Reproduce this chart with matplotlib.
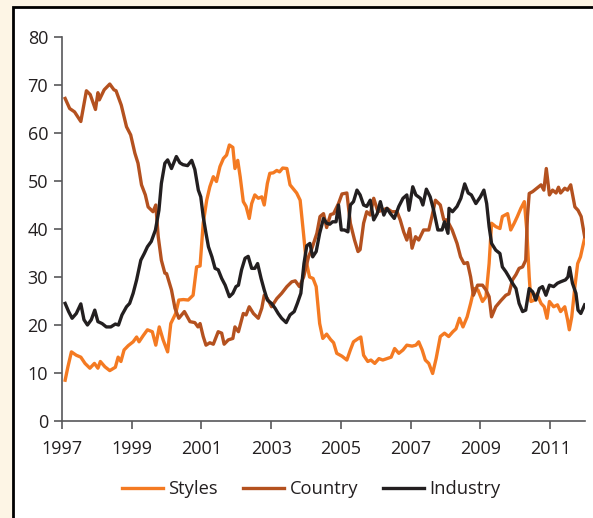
import matplotlib.pyplot as plt
from matplotlib.patches import Rectangle

# (decimal year, %)
styles_t = [1997.09, 1997.17, 1997.27, 1997.41, 1997.54, 1997.66, 1997.80, 1997.93, 1998.03, 1998.10,
            1998.23, 1998.37, 1998.53, 1998.61, 1998.69, 1998.78, 1998.90, 1999.04, 1999.14, 1999.21,
            1999.33, 1999.45, 1999.59, 1999.69, 1999.79, 1999.90, 2000.03, 2000.12, 2000.26, 2000.35,
            2000.48, 2000.62, 2000.76, 2000.86, 2000.96, 2001.05, 2001.15, 2001.24, 2001.34, 2001.43,
            2001.53, 2001.63, 2001.72, 2001.80, 2001.90, 2001.96, 2002.04, 2002.11, 2002.20, 2002.28,
            2002.37, 2002.44, 2002.53, 2002.63, 2002.73, 2002.80, 2002.89, 2002.96, 2003.06, 2003.16,
            2003.24, 2003.33, 2003.45, 2003.54, 2003.64, 2003.73, 2003.83, 2003.93, 2004.00, 2004.10,
            2004.20, 2004.29, 2004.39, 2004.48, 2004.59, 2004.70, 2004.79, 2004.88, 2005.03, 2005.17,
            2005.27, 2005.36, 2005.50, 2005.57, 2005.65, 2005.77, 2005.86, 2005.97, 2006.09, 2006.20,
            2006.32, 2006.44, 2006.54, 2006.66, 2006.78, 2006.89, 2007.04, 2007.15, 2007.23, 2007.33,
            2007.42, 2007.52, 2007.63, 2007.73, 2007.85, 2007.97, 2008.09, 2008.21, 2008.30, 2008.40,
            2008.50, 2008.62, 2008.72, 2008.82, 2008.93, 2009.06, 2009.16, 2009.25, 2009.32, 2009.44,
            2009.56, 2009.63, 2009.78, 2009.87, 2009.97, 2010.06, 2010.16, 2010.26, 2010.33, 2010.40,
            2010.45, 2010.55, 2010.62, 2010.74, 2010.83, 2010.91, 2010.98, 2011.10, 2011.21, 2011.30,
            2011.42, 2011.50, 2011.55, 2011.62, 2011.71, 2011.79, 2011.87, 2011.99]
styles = [8.5, 11.3, 14.4, 13.7, 13.3, 12.0, 11.0, 12.0, 11.0, 12.4,
          11.3, 10.5, 11.2, 13.3, 12.4, 14.8, 15.7, 16.5, 17.5, 16.5,
          17.8, 19.0, 18.6, 15.8, 19.6, 16.9, 14.4, 20.3, 22.4, 25.2,
          25.3, 25.2, 26.2, 32.1, 32.3, 41.2, 46.0, 48.8, 50.9, 49.9,
          53.0, 54.7, 55.4, 57.5, 57.0, 52.6, 54.3, 50.9, 45.7, 44.7,
          42.2, 45.3, 47.1, 46.4, 46.7, 45.0, 49.5, 51.6, 51.7, 52.2,
          51.9, 52.7, 52.6, 49.2, 48.3, 47.5, 46.0, 38.8, 33.5, 30.0,
          29.7, 28.0, 20.3, 17.2, 18.1, 17.0, 16.3, 14.1, 13.5, 12.7,
          14.8, 16.5, 17.2, 17.5, 13.7, 12.4, 12.7, 12.0, 13.0, 12.7,
          13.0, 13.3, 15.1, 14.1, 14.8, 15.8, 15.6, 15.8, 16.5, 14.8,
          12.7, 12.0, 9.9, 13.0, 17.6, 18.3, 17.6, 18.6, 19.2, 21.4,
          19.6, 21.7, 24.5, 27.6, 27.3, 24.9, 25.9, 32.8, 41.2, 40.5,
          40.1, 42.6, 43.2, 39.8, 41.2, 42.6, 44.3, 45.7, 39.8, 30.0,
          24.9, 25.2, 26.5, 24.5, 23.8, 21.4, 24.9, 23.8, 24.2, 22.8,
          23.8, 21.1, 19.0, 21.7, 28.0, 32.8, 34.2, 38.1]

country_t = [1997.09, 1997.22, 1997.36, 1997.54, 1997.70, 1997.81, 1997.96, 1998.03, 1998.07, 1998.21,
             1998.37, 1998.49, 1998.55, 1998.70, 1998.85, 1998.97, 1999.09, 1999.18, 1999.28, 1999.39,
             1999.47, 1999.61, 1999.69, 1999.76, 1999.85, 1999.95, 2000.00, 2000.14, 2000.24, 2000.35,
             2000.51, 2000.67, 2000.81, 2000.90, 2000.96, 2001.05, 2001.13, 2001.24, 2001.34, 2001.48,
             2001.58, 2001.65, 2001.77, 2001.90, 2001.96, 2002.06, 2002.20, 2002.28, 2002.37, 2002.49,
             2002.63, 2002.73, 2002.80, 2002.89, 2003.01, 2003.16, 2003.30, 2003.45, 2003.59, 2003.69,
             2003.81, 2003.93, 2004.07, 2004.16, 2004.31, 2004.40, 2004.50, 2004.59, 2004.70, 2004.79,
             2004.93, 2005.03, 2005.17, 2005.27, 2005.39, 2005.49, 2005.55, 2005.65, 2005.74, 2005.84,
             2005.94, 2006.06, 2006.18, 2006.32, 2006.46, 2006.61, 2006.70, 2006.80, 2006.89, 2006.97,
             2007.04, 2007.14, 2007.23, 2007.37, 2007.52, 2007.61, 2007.71, 2007.85, 2007.95, 2008.04,
             2008.19, 2008.33, 2008.43, 2008.53, 2008.63, 2008.72, 2008.80, 2008.92, 2009.06, 2009.16,
             2009.25, 2009.32, 2009.44, 2009.59, 2009.73, 2009.82, 2009.92, 2010.02, 2010.11, 2010.21,
             2010.30, 2010.35, 2010.40, 2010.50, 2010.62, 2010.74, 2010.82, 2010.89, 2010.98, 2011.07,
             2011.17, 2011.24, 2011.30, 2011.42, 2011.50, 2011.59, 2011.71, 2011.80, 2011.89, 2011.99]
country = [67.2, 65.1, 64.4, 62.4, 68.8, 68.0, 64.9, 68.4, 66.9, 69.0,
           70.2, 69.0, 68.8, 65.8, 61.3, 59.6, 55.8, 53.7, 49.2, 47.1,
           44.6, 43.6, 45.0, 38.4, 33.5, 30.8, 30.7, 27.3, 23.5, 21.4,
           22.8, 20.7, 20.5, 19.6, 20.3, 17.6, 15.8, 16.3, 16.0, 18.6,
           18.3, 16.0, 16.9, 17.2, 19.6, 18.6, 22.4, 22.1, 23.8, 22.4,
           21.4, 23.5, 26.2, 25.5, 23.8, 25.5, 26.6, 28.0, 29.0, 29.2,
           28.0, 30.0, 34.2, 35.8, 39.1, 42.6, 43.2, 40.3, 43.0, 43.2,
           45.3, 47.3, 47.5, 41.2, 37.7, 35.3, 35.7, 41.2, 43.6, 42.9,
           46.4, 43.6, 43.9, 44.3, 43.6, 43.6, 41.9, 39.4, 37.7, 40.1,
           36.0, 38.4, 37.7, 39.8, 39.8, 42.6, 46.0, 45.0, 41.9, 41.9,
           39.8, 37.0, 34.2, 32.8, 33.0, 30.0, 26.2, 28.3, 28.3, 27.3,
           25.9, 21.7, 23.8, 25.1, 26.2, 26.5, 29.4, 30.5, 31.8, 32.1,
           33.5, 42.6, 47.4, 47.8, 48.5, 49.2, 48.1, 52.6, 47.1, 48.1,
           47.5, 48.7, 47.5, 48.5, 48.1, 49.2, 44.6, 43.9, 42.6, 38.4]

industry_t = [1997.09, 1997.19, 1997.29, 1997.41, 1997.54, 1997.63, 1997.73, 1997.84, 1997.94, 1998.03,
              1998.15, 1998.27, 1998.40, 1998.53, 1998.62, 1998.72, 1998.85, 1998.94, 1999.04, 1999.14,
              1999.26, 1999.36, 1999.45, 1999.56, 1999.68, 1999.78, 1999.85, 1999.95, 2000.03, 2000.14,
              2000.28, 2000.38, 2000.47, 2000.60, 2000.72, 2000.81, 2000.91, 2000.98, 2001.05, 2001.13,
              2001.20, 2001.30, 2001.39, 2001.48, 2001.58, 2001.68, 2001.80, 2001.90, 2001.99, 2002.06,
              2002.15, 2002.25, 2002.34, 2002.44, 2002.53, 2002.61, 2002.71, 2002.80, 2002.89, 2003.01,
              2003.11, 2003.20, 2003.30, 2003.43, 2003.54, 2003.66, 2003.75, 2003.85, 2003.94, 2004.02,
              2004.11, 2004.19, 2004.29, 2004.39, 2004.50, 2004.59, 2004.68, 2004.76, 2004.86, 2004.93,
              2005.01, 2005.10, 2005.20, 2005.27, 2005.36, 2005.46, 2005.55, 2005.65, 2005.74, 2005.84,
              2005.94, 2006.04, 2006.13, 2006.23, 2006.32, 2006.42, 2006.53, 2006.66, 2006.78, 2006.89,
              2006.95, 2007.06, 2007.15, 2007.28, 2007.35, 2007.45, 2007.56, 2007.66, 2007.78, 2007.90,
              2007.97, 2008.07, 2008.10, 2008.20, 2008.33, 2008.44, 2008.55, 2008.65, 2008.74, 2008.87,
              2009.00, 2009.10, 2009.18, 2009.25, 2009.32, 2009.44, 2009.56, 2009.63, 2009.73, 2009.82,
              2009.92, 2010.02, 2010.11, 2010.21, 2010.30, 2010.40, 2010.50, 2010.59, 2010.69, 2010.78,
              2010.88, 2010.98, 2011.10, 2011.21, 2011.30, 2011.44, 2011.51, 2011.56, 2011.64, 2011.74,
              2011.80, 2011.88, 2011.99]
industry = [24.5, 22.8, 21.4, 22.4, 24.4, 21.1, 20.0, 21.1, 23.1, 20.7,
            20.3, 19.6, 19.6, 20.2, 20.0, 22.1, 23.8, 24.5, 26.6, 29.4,
            33.5, 34.9, 36.3, 37.4, 39.8, 43.9, 49.5, 53.7, 54.4, 52.6,
            55.1, 53.8, 53.4, 53.2, 54.3, 52.4, 48.1, 46.7, 42.6, 39.1,
            36.3, 34.2, 31.8, 31.5, 29.7, 28.3, 25.9, 26.6, 28.0, 28.3,
            31.5, 33.9, 34.3, 31.8, 31.8, 32.8, 29.7, 27.3, 25.2, 24.5,
            23.5, 22.4, 21.4, 20.5, 22.1, 22.8, 24.5, 26.6, 32.8, 36.5,
            37.0, 34.2, 35.3, 39.1, 42.2, 41.2, 41.0, 41.5, 41.5, 45.0,
            39.8, 39.8, 39.4, 45.0, 45.7, 48.1, 47.1, 45.0, 44.7, 46.0,
            41.9, 43.2, 45.7, 42.9, 44.3, 43.2, 42.2, 44.7, 46.4, 47.1,
            43.9, 48.8, 47.1, 46.4, 45.0, 48.3, 46.7, 43.9, 39.8, 39.8,
            41.5, 39.1, 44.3, 43.6, 44.7, 46.4, 49.4, 47.5, 47.1, 45.3,
            46.7, 48.1, 45.3, 40.5, 37.0, 35.6, 34.9, 32.1, 31.1, 30.0,
            28.7, 27.6, 24.5, 22.8, 23.1, 27.6, 26.9, 25.2, 27.6, 28.0,
            26.2, 28.3, 28.0, 28.7, 29.0, 29.4, 30.0, 32.0, 28.7, 26.6,
            23.1, 22.4, 24.2]

years = [1997, 1999, 2001, 2003, 2005, 2007, 2009, 2011]
yticks = [0, 10, 20, 30, 40, 50, 60, 70, 80]

txt = '#231f20'
plt.rcParams['font.family'] = ['Open Sans', 'DejaVu Sans']

fig = plt.figure(figsize=(5.93, 5.18), dpi=100, facecolor='#fdf5e5')
fig.patches.append(Rectangle((13 / 593, -0.05), 1.1, 1 - 7 / 518 + 0.05,
                             transform=fig.transFigure, facecolor='white',
                             edgecolor='black', linewidth=2, zorder=-5))

ax = fig.add_axes([62 / 593, 1 - 421 / 518, 523 / 593, 384 / 518])
ax.set_facecolor('none')
ax.plot(styles_t, styles, color='#f47a22', lw=2.4, label='Styles')
ax.plot(country_t, country, color='#b4511f', lw=2.4, label='Country')
ax.plot(industry_t, industry, color='#231f20', lw=2.4, label='Industry')

ax.set_xlim(1997, 2012)
ax.set_ylim(0, 80)
ax.set_xticks(years)
ax.set_xticklabels([str(y) for y in years])
ax.set_yticks(yticks)
for s in ['top', 'right']:
    ax.spines[s].set_visible(False)
for s in ['left', 'bottom']:
    ax.spines[s].set_color('#58585a')
    ax.spines[s].set_linewidth(1.2)
ax.tick_params(direction='out', length=6, width=1.2, color='#58585a',
               labelsize=13, labelcolor=txt, pad=4)
ax.tick_params(axis='x', pad=8)

fig.legend(loc='center', bbox_to_anchor=(0.525, 0.056), ncol=3, frameon=False,
           fontsize=13.2, handlelength=2.25, handletextpad=0.3, columnspacing=1.35,
           labelcolor=txt)

fig.savefig('out.png', dpi=100, facecolor=fig.get_facecolor())
